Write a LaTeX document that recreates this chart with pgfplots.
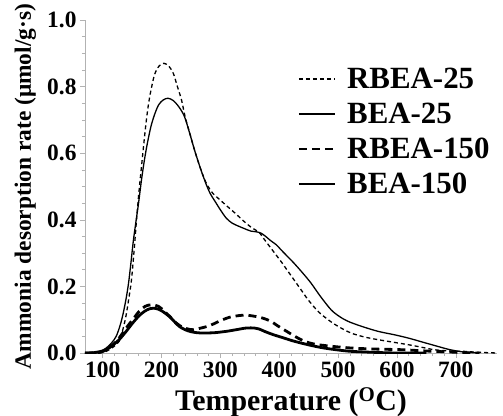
\documentclass[border=0pt]{standalone}
\usepackage{pgfplots}
\pgfplotsset{compat=1.18}
\usepackage{fontspec}
\setmainfont{Liberation Serif}

\pgfplotstableread{
T v
70 0
95 0.0
106 0.005
118 0.018
128 0.035
135 0.075
140 0.115
145 0.17
149 0.22
154 0.32
158 0.41
162 0.49
166 0.56
170 0.63
175 0.71
180 0.77
188 0.835
196 0.862
204 0.87
212 0.862
220 0.84
227 0.80
234 0.76
240 0.71
248 0.66
256 0.61
266 0.555
276 0.51
287 0.48
298 0.462
312 0.44
325 0.42
339 0.397
352 0.378
366 0.362
373 0.345
388 0.31
403 0.275
415 0.245
425 0.22
437 0.19
449 0.16
466 0.125
483 0.10
500 0.08
522 0.06
545 0.048
568 0.04
595 0.032
619 0.025
640 0.018
663 0.01
690 0.006
713 0.005
740 0.002
770 0.0
}\rbeaA

\pgfplotstableread{
T v
70 0
90 0.0
106 0.015
115 0.03
123 0.05
130 0.085
135 0.12
140 0.165
144 0.21
148 0.27
152 0.335
157 0.40
161 0.45
166 0.52
171 0.58
176 0.63
182 0.68
188 0.715
195 0.745
203 0.76
211 0.765
220 0.758
230 0.738
239 0.71
247 0.665
256 0.61
266 0.555
276 0.506
283 0.478
290 0.458
300 0.43
310 0.405
320 0.39
332 0.38
343 0.372
352 0.366
361 0.364
369 0.36
377 0.35
385 0.338
395 0.325
403 0.31
414 0.29
425 0.27
440 0.24
454 0.21
470 0.17
488 0.13
502 0.11
517 0.095
540 0.08
568 0.065
595 0.055
619 0.045
645 0.032
669 0.02
690 0.01
713 0.003
740 0.0
}\beaA

\pgfplotstableread{
T v
70 0
95 0.002
106 0.01
118 0.025
128 0.045
140 0.075
151 0.10
162 0.125
172 0.14
183 0.145
195 0.14
205 0.125
215 0.108
225 0.09
235 0.078
245 0.072
254 0.07
265 0.074
278 0.08
288 0.087
300 0.097
315 0.107
330 0.112
344 0.114
352 0.112
365 0.108
375 0.103
386 0.095
397 0.082
408 0.07
422 0.055
437 0.04
452 0.03
466 0.025
490 0.02
522 0.015
560 0.012
607 0.01
650 0.006
690 0.003
713 0.001
740 0
}\rbeaB

\pgfplotstableread{
T v
70 0
80 0
95 0.004
106 0.01
118 0.025
128 0.04
140 0.065
151 0.09
162 0.112
171 0.125
180 0.133
190 0.134
200 0.127
213 0.11
222 0.094
230 0.08
240 0.07
250 0.064
260 0.061
271 0.06
290 0.061
310 0.065
327 0.07
344 0.075
358 0.075
366 0.072
375 0.065
390 0.055
408 0.045
422 0.037
437 0.03
456 0.022
476 0.015
500 0.009
522 0.005
560 0.002
600 0.0
650 0.0
}\beaB

\begin{document}
\begin{tikzpicture}
\begin{axis}[
  scale only axis, width=412bp, height=333bp,
  xmin=70, xmax=770, ymin=0, ymax=1.0,
  axis x line*=bottom, axis y line*=left,
  axis line style={-, gray!60, line width=0.8pt},
  xtick={100,200,...,700}, minor x tick num=4,
  ytick={0,0.2,0.4,0.6,0.8,1.0}, minor y tick num=3,
  tick align=outside, tick style={gray!60, line width=0.6pt},
  major tick length=5bp, minor tick length=3bp,
  /pgf/number format/assume math mode=true,
  yticklabel style={/pgf/number format/.cd, fixed, fixed zerofill, precision=1},
  ticklabel style={font=\fontsize{23.5}{23.5}\selectfont\bfseries},
  xlabel={Temperature (\textsuperscript{O}C)},
  ylabel={Ammonia desorption rate (μmol/g·s)},
  every axis x label/.style={at={(rel axis cs:0.5,0)}, yshift=-57bp, anchor=base, font=\fontsize{30}{30}\selectfont\bfseries},
  every axis y label/.style={at={(rel axis cs:0,0.5)}, xshift=-54bp, rotate=90, anchor=base, font=\fontsize{23.5}{23.5}\selectfont\bfseries},
  legend style={draw=none, fill=none, at={(rel axis cs:0.515,0.862)}, anchor=north west, inner sep=0pt,
    font=\fontsize{31}{31}\selectfont\bfseries, row sep=9bp, column sep=9bp, nodes={inner sep=2bp}},
  legend cell align=left,
  legend image code/.code={\draw[#1] (0bp,0bp) -- (36bp,0bp);},
]
\addplot[black, line width=1.3bp, dash pattern=on 4bp off 3bp, smooth] table[x=T,y=v] {\rbeaA};
\addlegendentry{RBEA-25}
\addplot[black, line width=1.3bp, smooth] table[x=T,y=v] {\beaA};
\addlegendentry{BEA-25}
\addplot[black, line width=2.8bp, dash pattern=on 8bp off 5bp, smooth] table[x=T,y=v] {\rbeaB};
\addlegendentry{RBEA-150}
\addplot[black, line width=2.8bp, smooth] table[x=T,y=v] {\beaB};
\addlegendentry{BEA-150}
\end{axis}
\pgfresetboundingbox
\path[use as bounding box] ([shift={(-85bp,-63bp)}]current axis.south west) rectangle ++(503bp,416bp);
\end{tikzpicture}
\end{document}
